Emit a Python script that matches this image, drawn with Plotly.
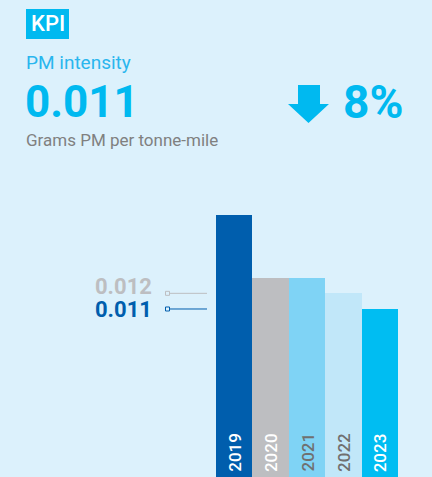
import plotly.graph_objects as go

years = ["2019", "2020", "2021", "2022", "2023"]
values = [0.017, 0.013, 0.013, 0.012, 0.011]
bar_colors = ["#005EAD", "#BDBEC1", "#7FD3F5", "#C1E7F9", "#00BDF2"]
year_label_colors = ["#FFFFFF", "#FFFFFF", "#707070", "#707070", "#FFFFFF"]
ref_values = [0.012, 0.011]
ref_labels = ["0.012", "0.011"]
ref_colors = ["#BDBEC1", "#005EAD"]

W, H = 432, 477
BG = "#DCF1FC"

def px(x):
    return x / W

def py(y):
    return 1 - y / H

fig = go.Figure()
fig.add_trace(go.Bar(
    x=years, y=values, marker=dict(color=bar_colors, line=dict(width=0)),
    hoverinfo="skip", showlegend=False,
))

shapes = []
annotations = []

# KPI badge
shapes.append(dict(type="rect", xref="paper", yref="paper",
                   x0=px(26), x1=px(69), y0=py(39), y1=py(9),
                   fillcolor="#00B9F0", line=dict(width=0), layer="below"))
annotations.append(dict(text="KPI", xref="paper", yref="paper", x=px(47.5), y=py(24),
                        xanchor="center", yanchor="middle", showarrow=False,
                        font=dict(family="Roboto", size=22, color="white", weight=500)))
annotations.append(dict(text="PM intensity", xref="paper", yref="paper", x=px(24), y=py(63),
                        xanchor="left", yanchor="middle", showarrow=False,
                        font=dict(family="Roboto", size=19, color="#29B6EE")))
annotations.append(dict(text="0.011", xref="paper", yref="paper", x=px(23), y=py(102),
                        xanchor="left", yanchor="middle", showarrow=False,
                        font=dict(family="Roboto", size=44, color="#00B9F0", weight=700)))
annotations.append(dict(text="Grams PM per tonne-mile", xref="paper", yref="paper", x=px(24), y=py(140),
                        xanchor="left", yanchor="middle", showarrow=False,
                        font=dict(family="Roboto", size=17, color="#808080")))
annotations.append(dict(text="8%", xref="paper", yref="paper", x=px(341), y=py(102),
                        xanchor="left", yanchor="middle", showarrow=False,
                        font=dict(family="Roboto", size=46, color="#00B9F0", weight=700)))

# down arrow
pts = [(298, 85), (320, 85), (320, 104), (329, 104), (308.5, 123), (288, 104), (298, 104)]
path = "M " + " L ".join(f"{px(x):.5f},{py(y):.5f}" for x, y in pts) + " Z"
shapes.append(dict(type="path", xref="paper", yref="paper", path=path,
                   fillcolor="#00B9F0", line=dict(width=0)))

# reference lines
label_y = [286.5, 309]
for v, lab, c, ly in zip(ref_values, ref_labels, ref_colors, label_y):
    shapes.append(dict(type="line", xref="paper", yref="y", x0=px(167), x1=px(207), y0=v, y1=v,
                       line=dict(color=c, width=1)))
    shapes.append(dict(type="rect", xref="paper", yref="y", xsizemode="pixel", ysizemode="pixel",
                       xanchor=px(167.5), yanchor=v, x0=-2, x1=2, y0=-2, y1=2,
                       fillcolor=BG, line=dict(color=c, width=1)))
    annotations.append(dict(text=lab, xref="paper", yref="paper", x=px(154), y=py(ly),
                            xanchor="right", yanchor="middle", showarrow=False,
                            font=dict(family="Roboto", size=22, color=c, weight=700)))

# year labels inside bars (category axis annotations use category index)
for i, (yr, c) in enumerate(zip(years, year_label_colors)):
    annotations.append(dict(text=yr, xref="x", yref="paper", x=i, y=py(474),
                            xanchor="center", yanchor="bottom", textangle=-90, showarrow=False,
                            font=dict(family="Roboto", size=17, color=c, weight=500)))

fig.update_layout(
    width=W, height=H,
    margin=dict(l=0, r=0, t=0, b=0),
    paper_bgcolor=BG, plot_bgcolor=BG,
    bargap=0,
    xaxis=dict(domain=[px(216), px(398)], range=[-0.5, 4.5], showticklabels=False,
               showgrid=False, zeroline=False, showline=False, ticks=""),
    yaxis=dict(domain=[0, 1], range=[0.000276, 0.030723], showticklabels=False,
               showgrid=False, zeroline=False, showline=False, ticks=""),
    shapes=shapes, annotations=annotations,
)

fig.write_html("out.html")
